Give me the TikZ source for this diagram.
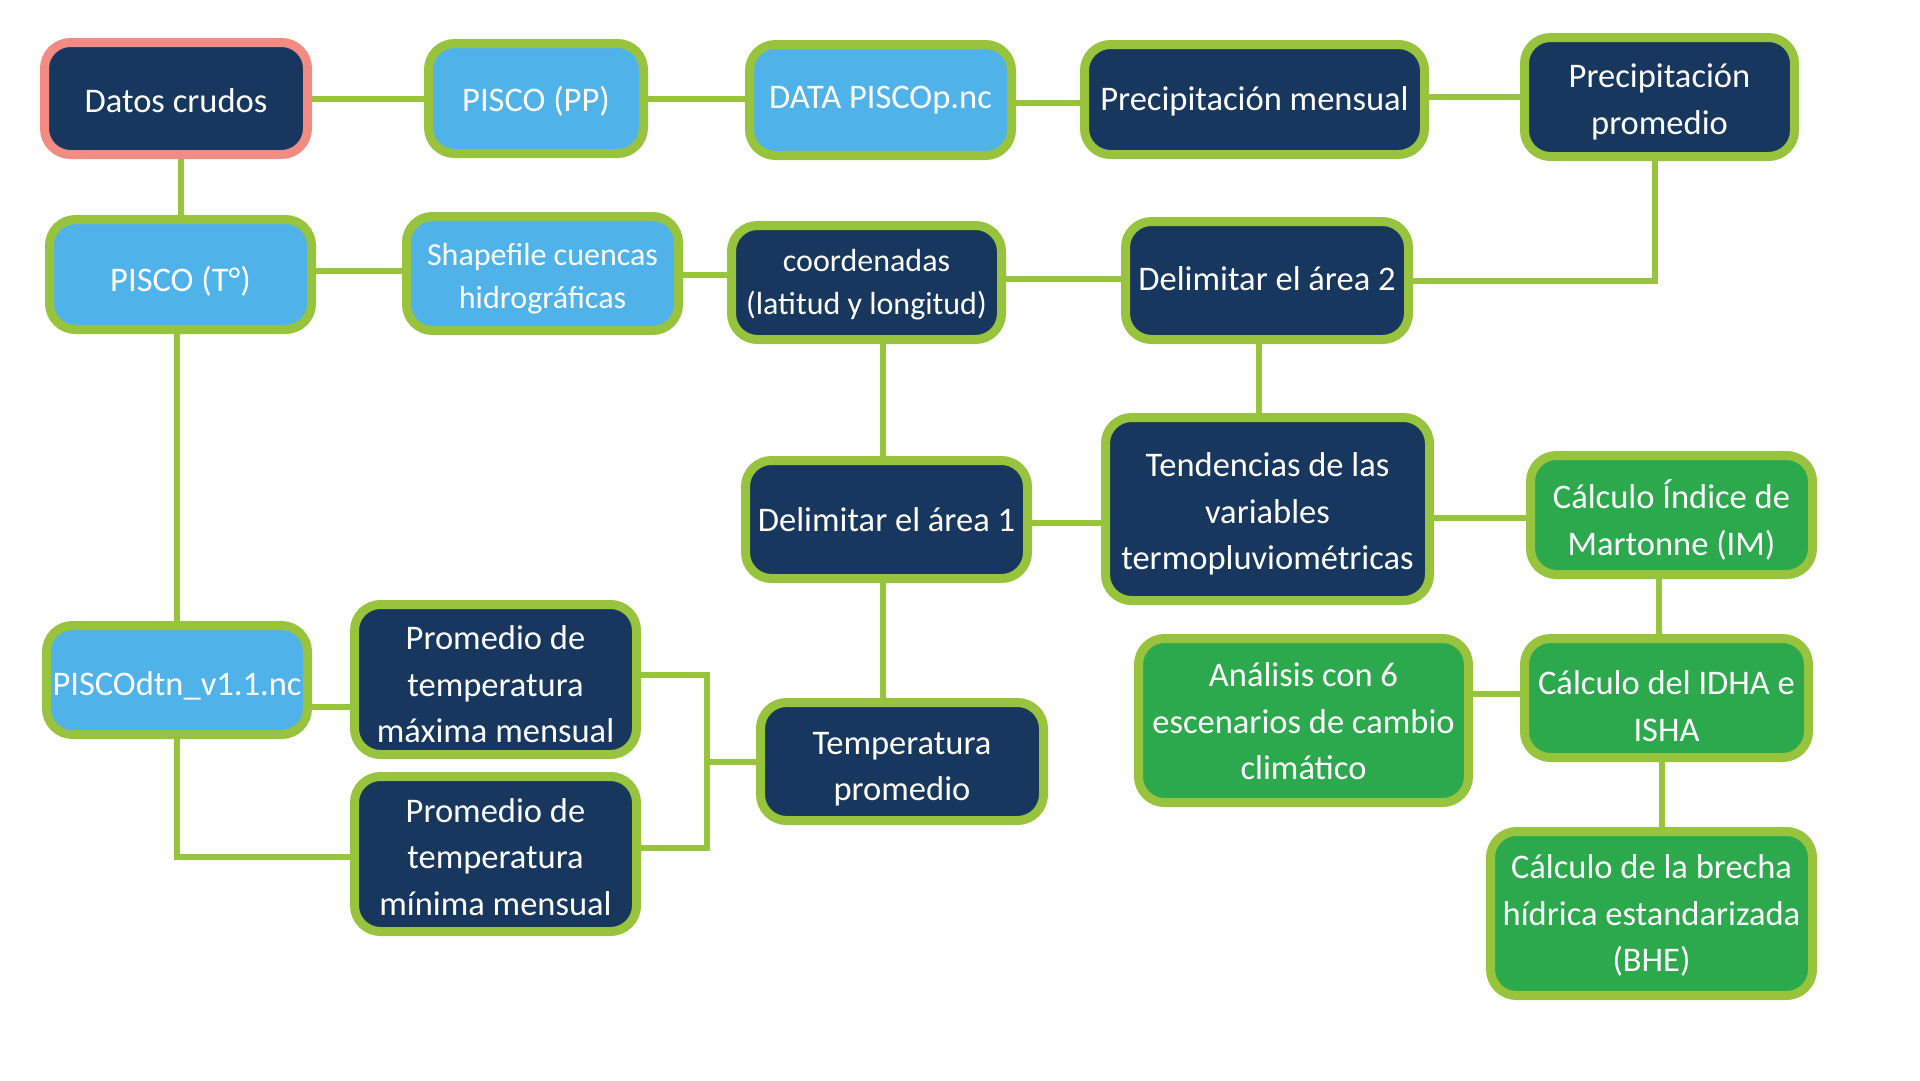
\documentclass[tikz,border=0pt]{standalone}
\usepackage{fontspec}
\setmainfont{Carlito}
\usetikzlibrary{backgrounds,calc}
\definecolor{navy}{HTML}{17375E}
\definecolor{sky}{HTML}{4FB3EA}
\definecolor{gfill}{HTML}{2BA94C}
\definecolor{gline}{HTML}{98C33D}
\definecolor{salmon}{HTML}{F28C82}
\begin{document}
\begin{tikzpicture}[x=1pt,y=-1pt,
  box/.style={draw=gline, line width=9pt, rounded corners=26pt, inner sep=0pt},
  navybox/.style={box, fill=navy},
  skybox/.style={box, fill=sky},
  greenbox/.style={box, fill=gfill},
  tl/.style={text=white, align=center, inner sep=0pt, yshift=-5pt,
    font=\fontsize{34.5}{46.5}\selectfont},
  smalltext/.style={font=\fontsize{32}{42.5}\selectfont},
  conn/.style={draw=gline, line width=6pt}]
\useasboundingbox (0,0) rectangle (1920,1080);

% top row
\node[navybox, draw=salmon, minimum width=263, minimum height=112,
  label={[tl, yshift=3pt, name=datos-t]center:Datos crudos}] (datos) at (176,98.5) {};
\node[skybox, minimum width=215, minimum height=110,
  label={[tl, yshift=2.5pt, name=pp-t]center:PISCO (PP)}] (pp) at (536,98.5) {};
\node[skybox, minimum width=262, minimum height=111,
  label={[tl, yshift=4.5pt, name=data-t]center:DATA PISCOp.nc}] (data) at (880.5,100) {};
\node[navybox, minimum width=340, minimum height=110,
  label={[tl, yshift=3.5pt, name=pmens-t]center:Precipitación mensual}] (pmens) at (1254.5,99.5) {};
\node[navybox, minimum width=270, minimum height=119,
  label={[tl, name=pprom-t]center:Precipitación\\promedio}] (pprom) at (1659.5,97) {};

% second row
\node[skybox, minimum width=262, minimum height=110,
  label={[tl, yshift=-2pt, name=pt-t]center:PISCO (T°)}] (pt) at (180.5,274.5) {};
\node[skybox, minimum width=272, minimum height=114,
  label={[tl, smalltext, name=shp-t]center:Shapefile cuencas\\hidrográficas}] (shp) at (542.5,273.5) {};
\node[navybox, minimum width=270, minimum height=114,
  label={[tl, smalltext, yshift=3pt, name=coord-t]center:coordenadas\\(latitud y longitud)}] (coord) at (866.5,282.5) {};
\node[navybox, minimum width=283, minimum height=118,
  label={[tl, yshift=6.5pt, name=del2-t]center:Delimitar el área 2}] (del2) at (1267,280.5) {};

% middle
\node[navybox, minimum width=282, minimum height=118,
  label={[tl, yshift=5pt, name=del1-t]center:Delimitar el área 1}] (del1) at (886.5,519.5) {};
\node[navybox, minimum width=324, minimum height=183,
  label={[tl, name=tend-t]center:Tendencias de las\\variables\\termopluviométricas}] (tend) at (1267.5,509) {};
\node[greenbox, minimum width=282, minimum height=119,
  label={[tl, name=mart-t]center:Cálculo Índice de\\Martonne (IM)}] (mart) at (1671.5,515) {};

% lower
\node[skybox, minimum width=261, minimum height=109,
  label={[tl, yshift=-1pt, name=dtn-t]center:PISCOdtn\_v1.1.nc}] (dtn) at (177,680) {};
\node[navybox, minimum width=282, minimum height=150,
  label={[tl, name=pmax-t]center:Promedio de\\temperatura\\máxima mensual}] (pmax) at (495.5,679.5) {};
\node[navybox, minimum width=282, minimum height=155,
  label={[tl, yshift=2pt, name=pmin-t]center:Promedio de\\temperatura\\mínima mensual}] (pmin) at (495.5,854) {};
\node[navybox, minimum width=283, minimum height=118,
  label={[tl, yshift=-2.5pt, name=tprom-t]center:Temperatura\\promedio}] (tprom) at (902,761.5) {};
\node[greenbox, minimum width=330, minimum height=164,
  label={[tl, yshift=4pt, name=anal-t]center:Análisis con 6\\escenarios de cambio\\climático}] (anal) at (1303.5,720.5) {};
\node[greenbox, minimum width=284, minimum height=119,
  label={[tl, yshift=-3pt, name=idha-t]center:Cálculo del IDHA e\\ISHA}] (idha) at (1666.5,698) {};
\node[greenbox, minimum width=322, minimum height=164,
  label={[tl, yshift=3pt, name=bhe-t]center:Cálculo de la brecha\\hídrica estandarizada\\(BHE)}] (bhe) at (1651.5,913.5) {};

\coordinate (j) at (707,761.5);

\begin{scope}[on background layer]
\fill[white] (0,0) rectangle (1920,1080);
\draw[conn] (datos.east) -- (pp.west);
\draw[conn] (pp.east) -- (pp.east -| data.west);
\draw[conn] ($(data.east)+(0,3)$) -- ($(data.east -| pmens.west)+(0,3)$);
\draw[conn] ($(pmens.east)+(0,-3)$) -- ($(pmens.east -| pprom.west)+(0,-3)$);
\draw[conn] ($(pprom.south)+(-5,0)$) |- (del2.east);
\draw[conn] (pt.north) -- (pt.north |- datos.south);
\draw[conn] ($(pt.east)+(0,-4)$) -- ($(pt.east -| shp.west)+(0,-4)$);
\draw[conn] ($(shp.east)+(0,1.5)$) -- ($(shp.east -| coord.west)+(0,1.5)$);
\draw[conn] ($(del2.west)+(0,-2)$) -- ($(del2.west -| coord.east)+(0,-2)$);
\draw[conn] ($(del1.north)+(-3.5,0)$) -- ($(del1.north |- coord.south)+(-3.5,0)$);
\draw[conn] ($(del2.south)+(-8.5,0)$) -- ($(del2.south |- tend.north)+(-8.5,0)$);
\draw[conn] ($(del1.east)+(0,3.5)$) -- ($(del1.east -| tend.west)+(0,3.5)$);
\draw[conn] ($(mart.west)+(0,3)$) -- ($(mart.west -| tend.east)+(0,3)$);
\draw[conn] ($(mart.south)+(-12.5,0)$) -- ($(mart.south |- idha.north)+(-12.5,0)$);
\draw[conn] ($(idha.west)+(0,-4)$) -- ($(idha.west -| anal.east)+(0,-4)$);
\draw[conn] ($(idha.south)+(-4.5,0)$) -- ($(idha.south |- bhe.north)+(-4.5,0)$);
\draw[conn] ($(del1.south)+(-3.5,0)$) -- ($(del1.south |- tprom.north)+(-3.5,0)$);
\draw[conn] (dtn.north) -- (dtn.north |- pt.south);
\draw[conn] ($(dtn.east)+(0,27)$) -- ($(dtn.east -| pmax.west)+(0,27)$);
\draw[conn] (dtn.south) |- ($(pmin.west)+(0,3)$);
\draw[conn] ($(pmax.east)+(0,-4.5)$) -| (j) |- ($(pmin.east)+(0,-6)$);
\draw[conn] (j) -- (tprom.west);
\end{scope}
\end{tikzpicture}
\end{document}
